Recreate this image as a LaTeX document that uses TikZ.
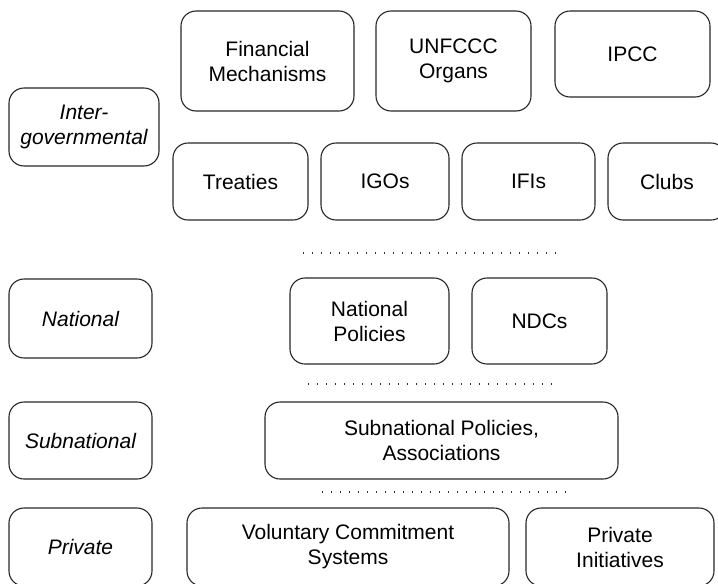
\documentclass[tikz,border=0pt]{standalone}
\usepackage{fontspec}
\setmainfont{Liberation Sans}
\tikzset{
  levelbox/.style={draw=black!85, line width=1.1pt, rounded corners=15pt, align=center,
    inner sep=0pt, font=\fontsize{21}{25}\selectfont},
  tierbox/.style={levelbox, font=\fontsize{21}{25}\selectfont\itshape},
  sepline/.style={line width=1.4pt, black!80, dash pattern=on 1.4pt off 7.6pt}
}
\begin{document}
\begin{tikzpicture}[x=1pt,y=-1pt]
            \useasboundingbox (0,0) rectangle (718,584);

            % levels on the left
            \node[tierbox, minimum width=150pt, minimum height=78pt] (inter) at (84,127) {Inter-\\governmental};
            \node[tierbox, minimum width=143pt, minimum height=79pt] (national) at (80.5,318.5) {National};
            \node[tierbox, minimum width=143pt, minimum height=77pt] (subnat) at (80.5,440.5) {Subnational};
            \node[tierbox, minimum width=143pt, minimum height=78pt] (private) at (80.5,547) {Private};

            % intergovernmental
            \node[levelbox, minimum width=173pt, minimum height=100pt] (fin) at (267.5,61) {Financial\\Mechanisms};
            \node[levelbox, minimum width=155pt, minimum height=100pt] (unfccc) at (453.5,61) {UNFCCC\\Organs};
            \node[levelbox, minimum width=155pt, minimum height=86pt] (ipcc) at (632.5,54) {IPCC};

            \node[levelbox, minimum width=135pt, minimum height=77pt] (treaties) at (240.5,181.5) {Treaties};
            \node[levelbox, minimum width=128pt, minimum height=77pt] (igos) at (385,181.5) {IGOs};
            \node[levelbox, minimum width=133pt, minimum height=77pt] (ifis) at (528.5,181.5) {IFIs};
            \node[levelbox, minimum width=118pt, minimum height=77pt] (clubs) at (667,181.5) {Clubs};

            % national
            \node[levelbox, minimum width=159pt, minimum height=86pt] (natpol) at (369.5,321) {National\\Policies};
            \node[levelbox, minimum width=135pt, minimum height=86pt] (ndcs) at (539.5,321) {NDCs};

            % subnational
            \node[levelbox, minimum width=353pt, minimum height=77pt] (subpol) at (441.5,440.5) {Subnational Policies,\\Associations};

            % private
            \node[levelbox, minimum width=322pt, minimum height=78pt] (vcs) at (348,547) {Voluntary Commitment\\Systems};
            \node[levelbox, minimum width=188pt, minimum height=78pt] (privinit) at (620,547) {Private\\Initiatives};

            % separators
            \coordinate (s1a) at (303,253);
            \coordinate (s1b) at (558,253);
            \coordinate (s2a) at (308,384);
            \coordinate (s2b) at (557,384);
            \coordinate (s3a) at (322,492);
            \coordinate (s3b) at (569,492);
            \draw[sepline] (s1a) -- (s1b);
            \draw[sepline] (s2a) -- (s2b);
            \draw[sepline] (s3a) -- (s3b);
        \end{tikzpicture}
\end{document}
